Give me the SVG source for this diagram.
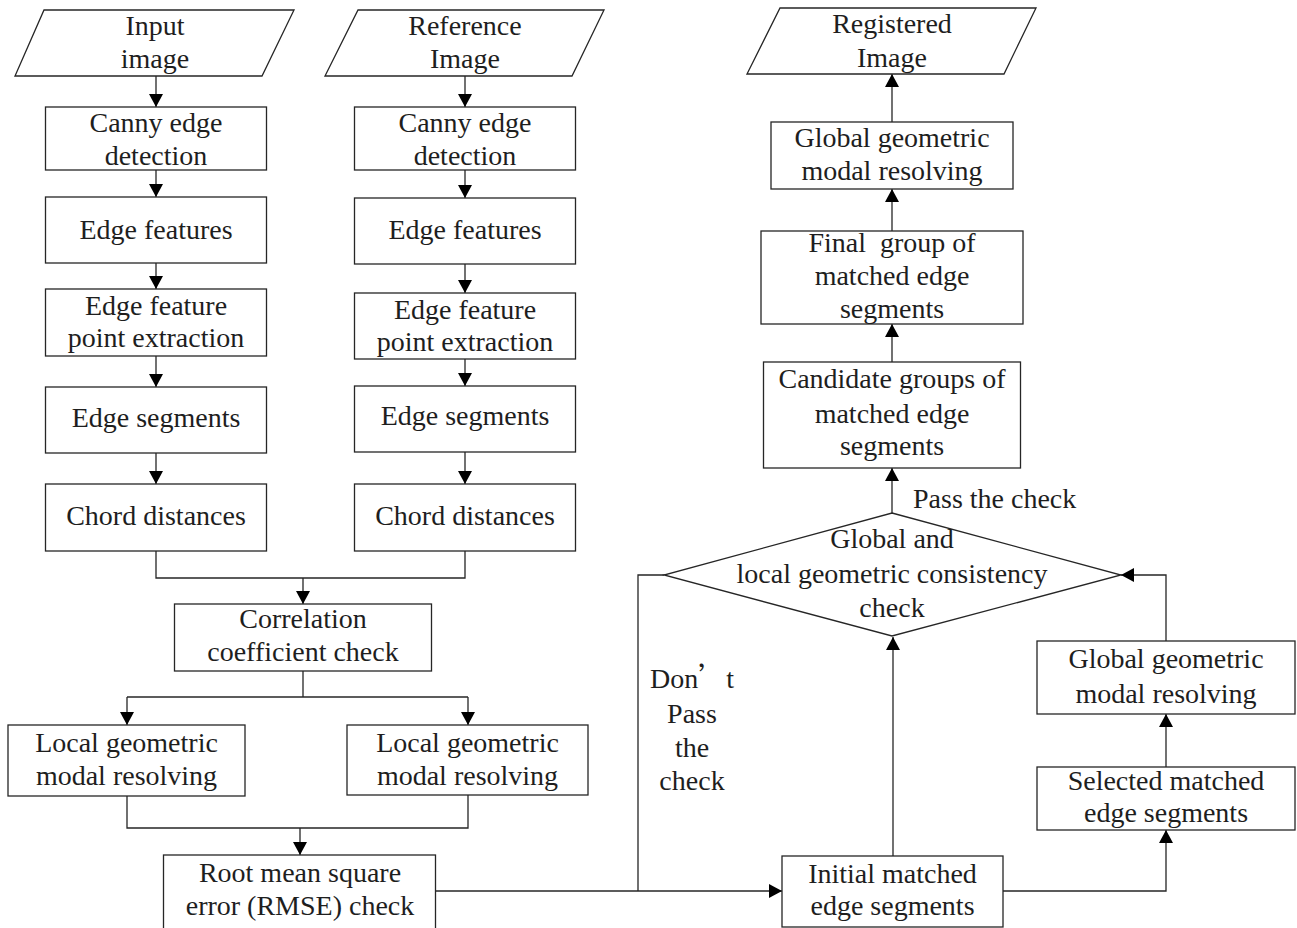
<svg xmlns="http://www.w3.org/2000/svg" width="1297" height="928" viewBox="0 0 1297 928">
<style>
.shape{fill:#fff;stroke:#262626;stroke-width:1.3}
.t{font-family:"Liberation Serif","Times New Roman",serif;font-size:28px;fill:#1e1e1e;text-anchor:middle}
.tl{font-family:"Liberation Serif","Times New Roman",serif;font-size:28px;fill:#1e1e1e}
.c{fill:none;stroke:#262626;stroke-width:1.3}
.a{fill:none;stroke:#262626;stroke-width:1.3;marker-end:url(#arr)}
</style>
<defs>
<marker id="arr" markerUnits="userSpaceOnUse" markerWidth="13" markerHeight="14" refX="13" refY="7" orient="auto">
<path d="M0,0 L13,7 L0,14 z" fill="#000"/>
</marker>
</defs>
<rect width="1297" height="928" fill="#fff"/>

<g id="connectors">
<path class="a" d="M156,76 V107"/>
<path class="a" d="M156,170 V197"/>
<path class="a" d="M156,263 V289"/>
<path class="a" d="M156,356 V387"/>
<path class="a" d="M156,453 V484"/>
<path class="a" d="M465,76 V107"/>
<path class="a" d="M465,170 V198"/>
<path class="a" d="M465,264 V293"/>
<path class="a" d="M465,359 V386"/>
<path class="a" d="M465,452 V484"/>
<path class="c" d="M156,551 V578 H465 V551"/>
<path class="a" d="M303,578 V604"/>
<path class="c" d="M303,671 V697"/>
<path class="c" d="M127,697 H468"/>
<path class="a" d="M127,697 V725"/>
<path class="a" d="M468,697 V725"/>
<path class="c" d="M127,796 V828 H468 V795"/>
<path class="a" d="M300,828 V855"/>
<path class="a" d="M436,891 H782"/>
<path class="c" d="M664,575 H638 V891"/>
<path class="a" d="M893,856 V637"/>
<path class="a" d="M1003,891 H1166 V830"/>
<path class="a" d="M1166,767 V714"/>
<path class="a" d="M1166,641 V575 H1121"/>
<path class="a" d="M892,513 V468"/>
<path class="a" d="M892,362 V324"/>
<path class="a" d="M892,231 V189"/>
<path class="a" d="M892,122 V74"/>
</g>

<g id="input-image">
<polygon class="shape" points="44,10 294,10 262,76 15,76"/>
<text class="t"><tspan x="155" y="35">Input</tspan><tspan x="155" y="68">image</tspan></text>
</g>
<g id="reference-image">
<polygon class="shape" points="358,10 604,10 572,76 325,76"/>
<text class="t"><tspan x="465" y="35">Reference</tspan><tspan x="465" y="68">Image</tspan></text>
</g>

<g id="canny-l">
<rect class="shape" x="45.5" y="107" width="221" height="63"/>
<text class="t"><tspan x="156" y="132">Canny edge</tspan><tspan x="156" y="165">detection</tspan></text>
</g>
<g id="canny-r">
<rect class="shape" x="354.5" y="107" width="221" height="63"/>
<text class="t"><tspan x="465" y="132">Canny edge</tspan><tspan x="465" y="165">detection</tspan></text>
</g>

<g id="edge-features-l">
<rect class="shape" x="45.5" y="197" width="221" height="66"/>
<text class="t" x="156" y="239">Edge features</text>
</g>
<g id="edge-features-r">
<rect class="shape" x="354.5" y="198" width="221" height="66"/>
<text class="t" x="465" y="239">Edge features</text>
</g>

<g id="edge-point-l">
<rect class="shape" x="45.5" y="289" width="221" height="67"/>
<text class="t"><tspan x="156" y="315">Edge feature</tspan><tspan x="156" y="347">point extraction</tspan></text>
</g>
<g id="edge-point-r">
<rect class="shape" x="354.5" y="293" width="221" height="66"/>
<text class="t"><tspan x="465" y="319">Edge feature</tspan><tspan x="465" y="351">point extraction</tspan></text>
</g>

<g id="edge-segments-l">
<rect class="shape" x="45.5" y="387" width="221" height="66"/>
<text class="t" x="156" y="427">Edge segments</text>
</g>
<g id="edge-segments-r">
<rect class="shape" x="354.5" y="386" width="221" height="66"/>
<text class="t" x="465" y="425">Edge segments</text>
</g>

<g id="chord-l">
<rect class="shape" x="45.5" y="484" width="221" height="67"/>
<text class="t" x="156" y="525">Chord distances</text>
</g>
<g id="chord-r">
<rect class="shape" x="354.5" y="484" width="221" height="67"/>
<text class="t" x="465" y="525">Chord distances</text>
</g>

<g id="correlation">
<rect class="shape" x="174.5" y="604" width="257" height="67"/>
<text class="t"><tspan x="303" y="628">Correlation</tspan><tspan x="303" y="661">coefficient check</tspan></text>
</g>

<g id="local-l">
<rect class="shape" x="8" y="725" width="237" height="71"/>
<text class="t"><tspan x="126.5" y="752">Local geometric</tspan><tspan x="126.5" y="785">modal resolving</tspan></text>
</g>
<g id="local-r">
<rect class="shape" x="347" y="725" width="241" height="70"/>
<text class="t"><tspan x="467.5" y="752">Local geometric</tspan><tspan x="467.5" y="785">modal resolving</tspan></text>
</g>

<g id="rmse">
<rect class="shape" x="163.5" y="855" width="272" height="80"/>
<text class="t"><tspan x="300" y="882">Root mean square</tspan><tspan x="300" y="915">error (RMSE) check</tspan></text>
</g>

<g id="initial">
<rect class="shape" x="782" y="856" width="221" height="71"/>
<text class="t"><tspan x="892.5" y="883">Initial matched</tspan><tspan x="892.5" y="915">edge segments</tspan></text>
</g>

<g id="selected">
<rect class="shape" x="1037" y="767" width="258" height="63"/>
<text class="t"><tspan x="1166" y="790">Selected matched</tspan><tspan x="1166" y="822">edge segments</tspan></text>
</g>

<g id="global-r">
<rect class="shape" x="1037" y="641" width="258" height="73"/>
<text class="t"><tspan x="1166" y="668">Global geometric</tspan><tspan x="1166" y="703">modal resolving</tspan></text>
</g>

<g id="consistency-check">
<polygon class="shape" points="892,513 1121,575 892,636 664,575"/>
<text class="t"><tspan x="892" y="548">Global and</tspan><tspan x="892" y="583">local geometric consistency</tspan><tspan x="892" y="617">check</tspan></text>
</g>

<g id="candidate">
<rect class="shape" x="763.5" y="362" width="257" height="106"/>
<text class="t"><tspan x="892" y="388">Candidate groups of</tspan><tspan x="892" y="423">matched edge</tspan><tspan x="892" y="455">segments</tspan></text>
</g>

<g id="final-group">
<rect class="shape" x="761" y="231" width="262" height="93"/>
<text class="t" xml:space="preserve"><tspan x="892" y="252">Final  group of</tspan><tspan x="892" y="285">matched edge</tspan><tspan x="892" y="318">segments</tspan></text>
</g>

<g id="global-top">
<rect class="shape" x="771" y="122" width="242" height="67"/>
<text class="t"><tspan x="892" y="147">Global geometric</tspan><tspan x="892" y="180">modal resolving</tspan></text>
</g>

<g id="registered-image">
<polygon class="shape" points="780,8 1036,8 1004,74 747,74"/>
<text class="t"><tspan x="892" y="33">Registered</tspan><tspan x="892" y="67">Image</tspan></text>
</g>

<g id="labels">
<text class="tl" x="913" y="508">Pass the check</text>
<text class="tl" x="650" y="688">Don<tspan font-family="'Noto Sans CJK SC', sans-serif">’</tspan>t</text>
<text class="t"><tspan x="692" y="723">Pass</tspan><tspan x="692" y="757">the</tspan><tspan x="692" y="790">check</tspan></text>
</g>
</svg>
